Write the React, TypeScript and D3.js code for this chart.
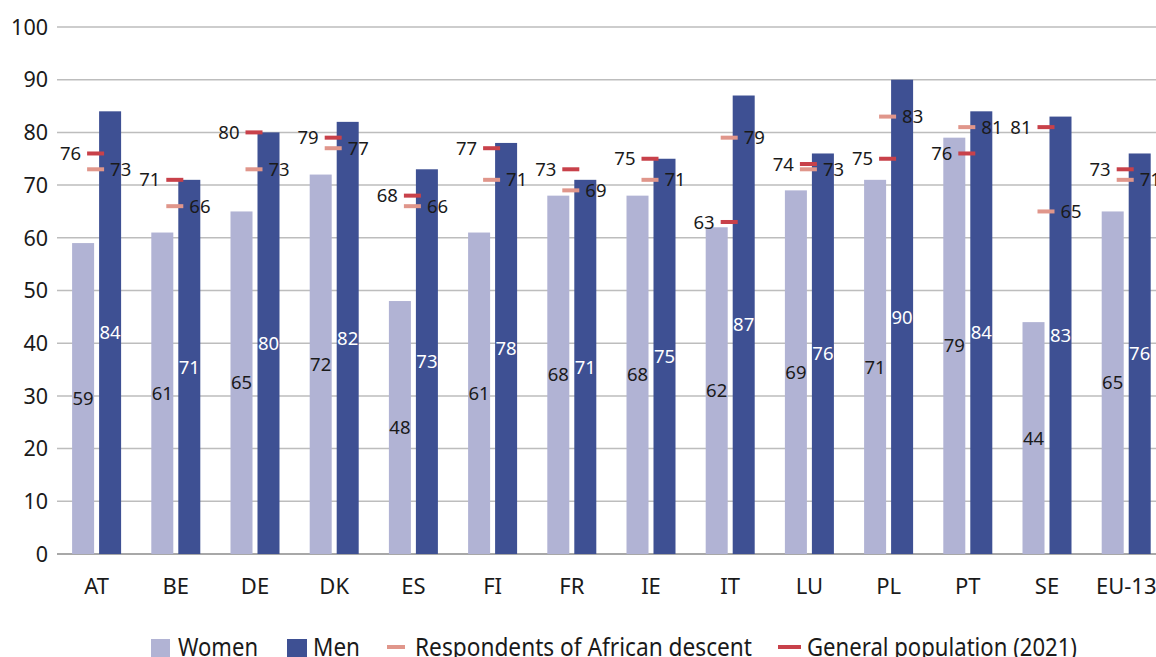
import { useEffect, useRef } from 'react';
import * as d3 from 'd3';

const categories = ['AT', 'BE', 'DE', 'DK', 'ES', 'FI', 'FR', 'IE', 'IT', 'LU', 'PL', 'PT', 'SE', 'EU-13'];
const women = [59, 61, 65, 72, 48, 61, 68, 68, 62, 69, 71, 79, 44, 65];
const men = [84, 71, 80, 82, 73, 78, 71, 75, 87, 76, 90, 84, 83, 76];
const africanDescent = [73, 66, 73, 77, 66, 71, 69, 71, 79, 73, 83, 81, 65, 71];
const generalPop = [76, 71, 80, 79, 68, 77, 73, 75, 63, 74, 75, 76, 81, 73];
const yTicks = [0, 10, 20, 30, 40, 50, 60, 70, 80, 90, 100];

const COLORS = {
  women: '#b1b3d4',
  men: '#3e5093',
  african: '#e0968b',
  general: '#c8414a',
  grid: '#bdbdbd',
  axis: '#a8a8a8',
  text: '#1a1a1a',
};

const W = 1156;
const H = 657;
const FONT = '"Noto Sans", "Open Sans", sans-serif';

export default function App() {
  const svgRef = useRef<SVGSVGElement>(null);

  useEffect(() => {
    if (!svgRef.current) return;
    const svg = d3.select(svgRef.current);
    svg.selectAll('*').remove();

    const left = 57;
    const step = 79.2;
    const x = d3.scaleBand<string>()
      .domain(categories)
      .range([left, left + step * categories.length])
      .padding(0);
    const y = d3.scaleLinear().domain([0, 100]).range([554, 27]);
    const sub = d3.scaleBand<string>()
      .domain(['women', 'men'])
      .range([-24.5, 24.5])
      .paddingInner(0.185);
    const center = (c: string) => (x(c) ?? 0) + x.bandwidth() / 2;

    // gridlines
    svg.append('g')
      .selectAll('line')
      .data(yTicks)
      .join('line')
      .attr('x1', left).attr('x2', W)
      .attr('y1', d => y(d)).attr('y2', d => y(d))
      .attr('stroke', d => d === 0 ? COLORS.axis : COLORS.grid)
      .attr('stroke-width', d => d === 0 ? 2 : 1.5);

    // y tick labels
    svg.append('g')
      .selectAll('text')
      .data(yTicks)
      .join('text')
      .attr('x', 48)
      .attr('y', d => y(d))
      .attr('dy', '0.36em')
      .attr('text-anchor', 'end')
      .attr('font-family', FONT)
      .attr('font-size', 21.5)
      .attr('fill', COLORS.text)
      .text(d => d);

    // category labels
    svg.append('g')
      .selectAll('text')
      .data(categories)
      .join('text')
      .attr('x', d => center(d))
      .attr('y', 594)
      .attr('text-anchor', 'middle')
      .attr('font-family', FONT)
      .attr('font-size', 22)
      .attr('fill', COLORS.text)
      .text(d => d);

    const rows = categories.map((c, i) => ({
      c, women: women[i], men: men[i], african: africanDescent[i], general: generalPop[i],
    }));

    const g = svg.append('g');
    // bars + value labels at mid-height
    (['women', 'men'] as const).forEach(key => {
      g.selectAll(`rect.${key}`)
        .data(rows)
        .join('rect')
        .attr('class', key)
        .attr('x', d => center(d.c) + (sub(key) ?? 0))
        .attr('width', sub.bandwidth())
        .attr('y', d => y(d[key]))
        .attr('height', d => y(0) - y(d[key]))
        .attr('fill', key === 'women' ? COLORS.women : COLORS.men);

      g.selectAll(`text.${key}`)
        .data(rows)
        .join('text')
        .attr('class', key)
        .attr('x', d => center(d.c) + (sub(key) ?? 0) + sub.bandwidth() / 2)
        .attr('y', d => y(d[key] / 2))
        .attr('dy', '0.36em')
        .attr('text-anchor', 'middle')
        .attr('font-family', FONT)
        .attr('font-size', 18.5)
        .attr('fill', key === 'women' ? COLORS.text : '#ffffff')
        .text(d => d[key]);
    });

    // dash markers with side labels
    const mw = 17;
    const mh = 4;
    (['african', 'general'] as const).forEach(key => {
      g.selectAll(`rect.m-${key}`)
        .data(rows)
        .join('rect')
        .attr('class', `m-${key}`)
        .attr('x', d => center(d.c) - 1 - mw / 2)
        .attr('y', d => y(d[key]) - mh / 2)
        .attr('width', mw)
        .attr('height', mh)
        .attr('fill', key === 'african' ? COLORS.african : COLORS.general);

      g.selectAll(`text.m-${key}`)
        .data(rows)
        .join('text')
        .attr('class', `m-${key}`)
        .attr('x', d => key === 'african' ? center(d.c) - 1 + mw / 2 + 6 : center(d.c) - 1 - mw / 2 - 6)
        .attr('y', d => y(d[key]))
        .attr('dy', '0.36em')
        .attr('text-anchor', key === 'african' ? 'start' : 'end')
        .attr('font-family', FONT)
        .attr('font-size', 18.5)
        .attr('fill', COLORS.text)
        .text(d => d[key]);
    });

    // legend (condensed face in the original -> squeeze with textLength)
    const legend = [
      { label: 'Women', color: COLORS.women, x: 151, w: 19, tx: 178, tw: 80, type: 'box' },
      { label: 'Men', color: COLORS.men, x: 287, w: 20, tx: 313, tw: 47, type: 'box' },
      { label: 'Respondents of African descent', color: COLORS.african, x: 387, w: 18, tx: 415, tw: 337, type: 'dash' },
      { label: 'General population (2021)', color: COLORS.general, x: 778, w: 23, tx: 807, tw: 270, type: 'dash' },
    ];
    const lg = svg.append('g');
    legend.forEach(item => {
      if (item.type === 'box') {
        lg.append('rect').attr('x', item.x).attr('y', 639).attr('width', item.w).attr('height', 18).attr('fill', item.color);
      } else {
        lg.append('rect').attr('x', item.x).attr('y', 645).attr('width', item.w).attr('height', 4).attr('fill', item.color);
      }
      lg.append('text')
        .attr('x', item.tx)
        .attr('y', 656)
        .attr('font-family', FONT)
        .attr('font-size', 25)
        .attr('textLength', item.tw)
        .attr('lengthAdjust', 'spacingAndGlyphs')
        .attr('fill', COLORS.text)
        .text(item.label);
    });
  }, []);

  return (
    <svg
      ref={svgRef}
      width={W}
      height={H}
      style={{ position: 'absolute', left: 0, top: 0, background: '#ffffff' }}
    />
  );
}
